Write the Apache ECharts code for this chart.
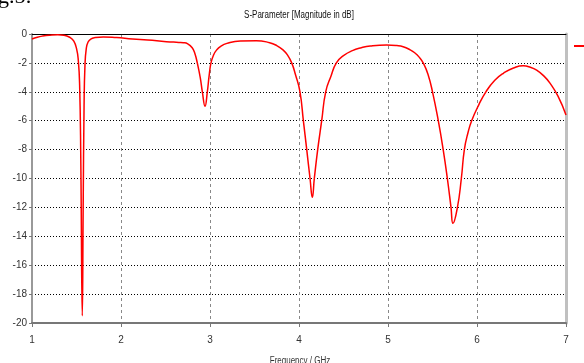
<!DOCTYPE html>
<html>
<head>
<meta charset="utf-8">
<script src="https://cdn.jsdelivr.net/npm/echarts@6/dist/echarts.min.js"></script>
<style>
html,body{margin:0;padding:0;background:#fff;}
#c{width:584px;height:363px;}
</style>
</head>
<body>
<div id="c"></div>
<script>
var titleText = 'S-Parameter [Magnitude in dB]';
var xAxisName = 'Frequency / GHz';
var captionText = 'g.5:';
var seriesName = 'S1,1';
var freq = [1.00,1.06,1.12,1.20,1.29,1.36,1.43,1.47,1.50,1.52,1.535,1.548,1.565,1.575,1.585,1.595,1.61,1.63,1.66,1.71,1.80,1.95,2.13,2.30,2.51,2.65,2.70,2.75,2.80,2.83,2.857,2.89,2.914,2.944,2.97,2.99,3.011,3.04,3.075,3.12,3.19,3.34,3.52,3.67,3.75,3.82,3.87,3.918,3.96,4.011,4.049,4.087,4.124,4.15,4.172,4.21,4.255,4.30,4.36,4.42,4.50,4.60,4.70,4.80,4.985,5.10,5.17,5.25,5.30,5.35,5.40,5.45,5.50,5.565,5.62,5.667,5.708,5.73,5.78,5.824,5.858,5.90,5.94,6.02,6.10,6.20,6.30,6.41,6.52,6.60,6.67,6.75,6.82,6.91,7.00];
var s11 = [-0.35,-0.22,-0.14,-0.08,-0.05,-0.08,-0.25,-0.5,-1.0,-1.8,-3.5,-8.5,-19.5,-12,-5,-2.2,-1.0,-0.55,-0.35,-0.25,-0.2,-0.25,-0.35,-0.42,-0.53,-0.58,-0.6,-0.68,-0.95,-1.35,-2.0,-3.0,-4.0,-5.0,-4.0,-2.9,-2.0,-1.45,-1.1,-0.85,-0.65,-0.48,-0.46,-0.6,-0.8,-1.1,-1.45,-2.0,-2.8,-4.0,-6.0,-8.0,-10.0,-11.3,-10.0,-8.0,-6.0,-4.0,-2.9,-2.0,-1.5,-1.15,-0.95,-0.83,-0.76,-0.8,-0.88,-1.1,-1.3,-1.6,-2.05,-2.8,-4.0,-6.0,-8.0,-10.0,-12.0,-13.1,-12.0,-10.0,-8.0,-6.8,-6.0,-4.9,-4.0,-3.2,-2.7,-2.35,-2.2,-2.3,-2.5,-2.9,-3.4,-4.3,-5.6];

var data = freq.map(function(f,i){return [f, s11[i]];});
var font = '"Liberation Sans", Arial, sans-serif';

var chart = echarts.init(document.getElementById('c'), null, {renderer:'canvas'});
chart.setOption({
  animation:false,
  backgroundColor:'#ffffff',
  legend:{
    show:true, left:574, top:41, padding:0, itemWidth:12, itemHeight:2, icon:'rect',
    textStyle:{fontFamily:font, fontSize:10, color:'#222'},
    data:[seriesName]
  },
  graphic:[
    {type:'text', left:-2, top:-14, style:{text:captionText, font:'22px "Liberation Serif", serif', fill:'#000'}},
    {type:'text', x:299, y:10, scaleX:0.8, style:{text:titleText, font:'10px "Liberation Sans", sans-serif', fill:'#111', align:'center', verticalAlign:'top'}},
    {type:'text', x:300, y:356, scaleX:0.8, style:{text:xAxisName, font:'10px "Liberation Sans", sans-serif', fill:'#333', align:'center', verticalAlign:'top'}}
  ],
  grid:{left:32, right:18, top:34, bottom:40, containLabel:false},
  xAxis:[{
    type:'value', min:1, max:7, interval:1,
    axisLine:{show:true, onZero:false, lineStyle:{color:'#777', width:2}},
    axisTick:{show:true, length:4, lineStyle:{color:'#777'}},
    axisLabel:{fontFamily:font, fontSize:10, color:'#333', margin:12},
    splitLine:{show:true, lineStyle:{type:[3,3], color:'#888', width:1}}
  },{
    type:'value', min:1, max:7, position:'top',
    axisLine:{show:true, onZero:false, lineStyle:{color:'#000', width:1}},
    axisTick:{show:false}, axisLabel:{show:false}, splitLine:{show:false}
  }],
  yAxis:[{
    type:'value', min:-20, max:0, interval:2,
    axisLine:{show:true, onZero:false, lineStyle:{color:'#999', width:2}},
    axisTick:{show:true, length:3, lineStyle:{color:'#777'}},
    axisLabel:{fontFamily:font, fontSize:10, color:'#333', margin:5},
    splitLine:{show:true, lineStyle:{type:[1,2], color:'#000', width:1}}
  },{
    type:'value', min:-20, max:0, position:'right',
    axisLine:{show:true, onZero:false, lineStyle:{color:'#c0c0c0', width:3}},
    axisTick:{show:false}, axisLabel:{show:false}, splitLine:{show:false}
  }],
  series:[{
    name:seriesName, type:'line', data:data, smooth:0.5, showSymbol:false,
    lineStyle:{color:'#ff0000', width:1.5}, itemStyle:{color:'#ff0000'}
  }]
});
</script>
</body>
</html>
